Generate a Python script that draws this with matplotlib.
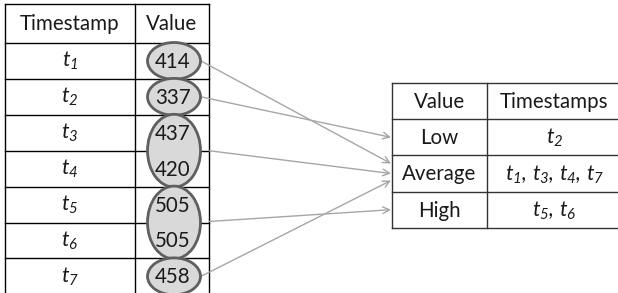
import matplotlib
matplotlib.use("Agg")
import matplotlib.pyplot as plt
from matplotlib.patches import Ellipse

plt.rcParams['font.family'] = ['Lato', 'DejaVu Sans']
plt.rcParams['mathtext.fontset'] = 'custom'
plt.rcParams['mathtext.it'] = 'Lato:italic'
plt.rcParams['mathtext.rm'] = 'Lato:italic'
plt.rcParams['mathtext.default'] = 'it'

# ---- data ----
timestamps = ["1", "2", "3", "4", "5", "6", "7"]
values = [414, 337, 437, 420, 505, 505, 458]
categories = ["Low", "Average", "High"]
cat_members = [["2"], ["1", "3", "4", "7"], ["5", "6"]]
# groups of consecutive rows circled together (start row, end row) and their category
groups = [(0, 0, "Average"), (1, 1, "Low"), (2, 3, "Average"), (4, 5, "High"), (6, 6, "Average")]

W, H = 618, 293
fig = plt.figure(figsize=(W / 100, H / 100), dpi=100)
ax = fig.add_axes([0, 0, 1, 1])
ax.set_xlim(0, W)
ax.set_ylim(H, 0)
ax.axis('off')

FS = 14.8
LC = 'black'
LW = 1.0
TC = '#1a1a1a'

# ---- left table ----
lx0, lx1, lx2 = 5, 135, 209
top, head_bot, row_h = 4, 43, 35.9
n = len(timestamps)
row_lines = [top, head_bot] + [head_bot + row_h * (i + 1) for i in range(n - 1)]
bottom = 293
for y in row_lines:
    ax.plot([lx0, lx2], [y, y], color=LC, lw=LW)
for x in (lx0, lx1, lx2):
    ax.plot([x, x], [top, bottom], color=LC, lw=LW)
ax.text((lx0 + lx1) / 2, (top + head_bot) / 2 + 1, "Timestamp", ha='center', va='center', fontsize=FS, color=TC)
ax.text((lx1 + lx2) / 2, (top + head_bot) / 2 + 1, "Value", ha='center', va='center', fontsize=FS, color=TC)

def row_center(i):
    return head_bot + row_h * i + row_h / 2

for i, t in enumerate(timestamps):
    ax.text((lx0 + lx1) / 2, row_center(i), r"$t_{%s}$" % t, ha='center', va='center', fontsize=FS + 0.5, color=TC)

ecx = 174
for (a, b, cat) in groups:
    y0 = head_bot + row_h * a
    y1 = head_bot + row_h * (b + 1)
    e = Ellipse((ecx, (y0 + y1) / 2), 53, (y1 - y0) + 1, facecolor='#d9d9d9',
                edgecolor='#5f5f5f', lw=2.0, zorder=3)
    ax.add_patch(e)
for i, v in enumerate(values):
    ax.text(ecx - 1, row_center(i) + 1, str(v), ha='center', va='center', fontsize=FS, zorder=4, color=TC)

# ---- right table ----
rx0, rx1, rx2 = 392, 487, 618
rtop, rrow = 83, 36.2
rlines = [rtop + rrow * k for k in range(len(categories) + 2)]
for y in rlines:
    ax.plot([rx0, rx2], [y, y], color='#333333', lw=LW)
for x in (rx0, rx1):
    ax.plot([x, x], [rlines[0], rlines[-1]], color='#333333', lw=LW)
ax.text((rx0 + rx1) / 2, rtop + rrow / 2 + 1, "Value", ha='center', va='center', fontsize=FS, color=TC)
ax.text((rx1 + rx2) / 2 + 2, rtop + rrow / 2 + 1, "Timestamps", ha='center', va='center', fontsize=FS, color=TC)
for k, (c, mem) in enumerate(zip(categories, cat_members)):
    yc = rtop + rrow * (k + 1) + rrow / 2 + 1
    ax.text((rx0 + rx1) / 2, yc, c, ha='center', va='center', fontsize=FS, color=TC)
    s = "$" + r"{,}\ ".join("t_{%s}" % m for m in mem) + "$"
    ax.text((rx1 + rx2) / 2 + 2, yc, s, ha='center', va='center', fontsize=FS + 0.5, color=TC)

# ---- arrows ----
target_offsets = {"Low": [0], "Average": [-10, 0, 7], "High": [0]}
used = {c: 0 for c in categories}
for (a, b, cat) in groups:
    y0 = head_bot + row_h * a
    y1 = head_bot + row_h * (b + 1)
    yc = (y0 + y1) / 2
    x_start = 201 if a == b else 209
    if cat == "High":
        yc = y0 + (y1 - y0) / 2 - 1
    k = categories.index(cat)
    ty = rtop + rrow * (k + 1) + rrow / 2 + target_offsets[cat][used[cat]]
    used[cat] += 1
    ax.annotate("", xy=(rx0 - 1, ty), xytext=(x_start, yc),
                arrowprops=dict(arrowstyle='->', color='#a6a6a6', lw=1.0,
                                mutation_scale=12, shrinkA=0, shrinkB=0), zorder=2)

fig.savefig("out.png", dpi=100)
